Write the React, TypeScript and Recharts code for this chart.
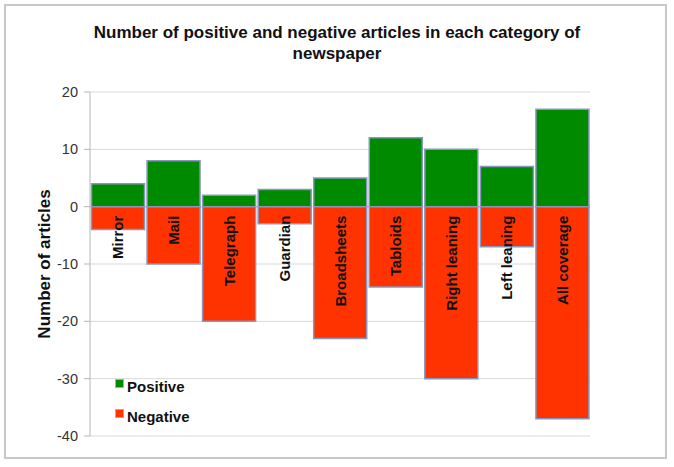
import { BarChart, Bar, XAxis, YAxis, CartesianGrid, LabelList } from 'recharts';

document.body.style.margin = '0';

const categories = ['Mirror', 'Mail', 'Telegraph', 'Guardian', 'Broadsheets', 'Tabloids', 'Right leaning', 'Left leaning', 'All coverage'];
const positive = [4, 8, 2, 3, 5, 12, 10, 7, 17];
const negative = [-4, -10, -20, -3, -23, -14, -30, -7, -37];
const yTicks = [-40, -30, -20, -10, 0, 10, 20];

const GREEN = '#008a00';
const RED = '#ff3300';
const EDGE = '#8797bd';

const data = categories.map((name, i) => ({ name, Positive: positive[i], Negative: negative[i] }));

// category name written upwards, starting just under the zero line
const CategoryLabel = (props: any) => {
  const { x, y, width, height, value } = props;
  const top = Math.min(y, y + height);
  const cx = x + width / 2;
  const ty = top + 9;
  return (
    <text
      x={cx}
      y={ty}
      transform={`rotate(-90, ${cx}, ${ty})`}
      textAnchor="end"
      dominantBaseline="central"
      fontSize={15}
      fontWeight="bold"
      fill="#111"
      fontFamily="'Liberation Sans', Arial, sans-serif"
    >
      {value}
    </text>
  );
};

export default function App() {
  const font = "'Liberation Sans', Arial, sans-serif";
  return (
    <div style={{ position: 'relative', width: 674, height: 467, background: '#fff', fontFamily: font }}>
      <div style={{ position: 'absolute', left: 4, top: 4, width: 659, height: 451, border: '2px solid #c8c8c8' }} />
      <div style={{ position: 'absolute', left: 0, top: 22, width: 674, textAlign: 'center', fontWeight: 'bold', fontSize: 17, lineHeight: '21px', color: '#111' }}>
        Number of positive and negative articles in each category of
        <br />
        newspaper
      </div>
      <div
        style={{
          position: 'absolute', left: 45, top: 264, transform: 'translate(-50%, -50%) rotate(-90deg)',
          whiteSpace: 'nowrap', fontWeight: 'bold', fontSize: 17, color: '#111',
        }}
      >
        Number of articles
      </div>
      <div style={{ position: 'absolute', left: 0, top: 0 }}>
        <BarChart width={674} height={467} data={data} stackOffset="sign" barCategoryGap={1.5}
          margin={{ top: 92, right: 84, bottom: 31, left: 0 }}>
          <CartesianGrid vertical={false} stroke="#d9d9d9" strokeWidth={1} />
          <XAxis dataKey="name" hide />
          <YAxis
            width={90}
            domain={[-40, 20]}
            ticks={yTicks}
            interval={0}
            stroke="#b5b5b5"
            tickSize={6}
            tickMargin={6}
            tick={{ fill: '#333', fontSize: 14.5, fontFamily: font }}
          />
          <Bar dataKey="Positive" stackId="a" fill={GREEN} stroke={EDGE} strokeWidth={1.5} isAnimationActive={false} />
          <Bar dataKey="Negative" stackId="a" fill={RED} stroke={EDGE} strokeWidth={1.5} isAnimationActive={false}>
            <LabelList dataKey="name" content={CategoryLabel} />
          </Bar>
        </BarChart>
      </div>
      <div style={{ position: 'absolute', left: 115, top: 376, fontWeight: 'bold', fontSize: 15, color: '#111' }}>
        {[['Positive', GREEN], ['Negative', RED]].map(([label, c], i) => (
          <div key={label} style={{ display: 'flex', alignItems: 'center', height: 20, marginBottom: i === 0 ? 10 : 0 }}>
            <span style={{ display: 'inline-block', width: 7, height: 7, background: c, border: '1px solid #9db0d0', marginRight: 3, marginTop: -6 }} />
            <span>{label}</span>
          </div>
        ))}
      </div>
    </div>
  );
}
